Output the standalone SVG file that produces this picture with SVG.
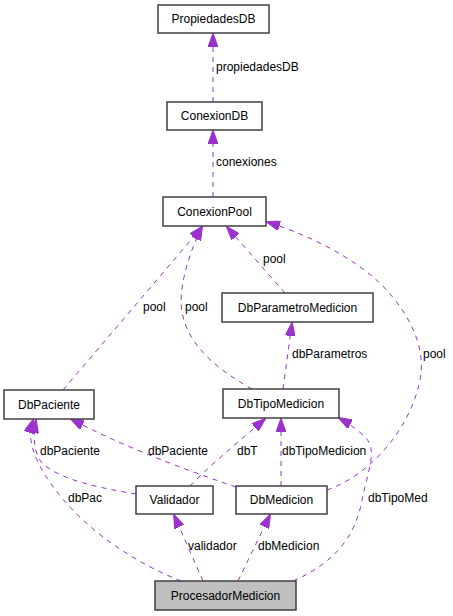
<svg xmlns="http://www.w3.org/2000/svg" width="453" height="616" viewBox="0 0 453 616">
<style>
.box{fill:#fff;stroke:#404040;stroke-width:1.5}
.main{fill:#bfbfbf}
.nt{font-family:"Liberation Sans",Arial,sans-serif;font-size:12px;fill:#000;text-anchor:middle}
.lt{font-family:"Liberation Sans",Arial,sans-serif;font-size:12px;fill:#000}
.e{fill:none;stroke:#9a32cd;stroke-width:1;stroke-dasharray:5,5;marker-end:url(#ah)}
</style>
<defs>
<marker id="ah" viewBox="0 0 14 10" refX="13" refY="5" markerWidth="14" markerHeight="10" markerUnits="userSpaceOnUse" orient="auto">
<path d="M0,0 L14,5 L0,10 z" fill="#9a32cd" stroke="#9a32cd"/>
</marker>
</defs>
<rect width="453" height="616" fill="#fff"/>
<g id="connectors">
<path class="e" d="M213 102 L213 34"/>
<path class="e" d="M213 197 L213 131"/>
<path class="e" d="M63 390 L202 227"/>
<path class="e" d="M252 389 C215 368 188 345 182 312 C178 290 188 255 202 227"/>
<path class="e" d="M285 293 L227 227"/>
<path class="e" d="M327 490 C370 475 410 430 420 380 C428 340 400 300 372 276 C340 250 300 232 267 222"/>
<path class="e" d="M190 486 C205 470 240 440 265 419"/>
<path class="e" d="M236 487 C180 468 120 445 71 419"/>
<path class="e" d="M283 389 L292 323"/>
<path class="e" d="M281 486 L281 419"/>
<path class="e" d="M136 494 C100 488 60 480 42 463 C33 452 33 435 36 420"/>
<path class="e" d="M181 581 C140 565 80 530 45 475 C30 450 28 435 33 420"/>
<path class="e" d="M203 581 L174 515"/>
<path class="e" d="M238 581 L270 515"/>
<path class="e" d="M293 581 C330 565 355 540 362 500 C368 470 378 450 365 437 C358 430 348 423 339 418"/>
</g>
<g id="labels">
<text class="lt" x="216" y="71">propiedadesDB</text>
<text class="lt" x="216" y="166">conexiones</text>
<text class="lt" x="143" y="311">pool</text>
<text class="lt" x="185" y="311">pool</text>
<text class="lt" x="263" y="263">pool</text>
<text class="lt" x="423" y="358">pool</text>
<text class="lt" x="292" y="358">dbParametros</text>
<text class="lt" x="237" y="455">dbT</text>
<text class="lt" x="148" y="455">dbPaciente</text>
<text class="lt" x="40" y="455">dbPaciente</text>
<text class="lt" x="282" y="455">dbTipoMedicion</text>
<text class="lt" x="68" y="502">dbPac</text>
<text class="lt" x="368" y="502">dbTipoMed</text>
<text class="lt" x="188" y="550">validador</text>
<text class="lt" x="258" y="550">dbMedicion</text>
</g>
<g id="PropiedadesDB"><rect class="box" x="158" y="5" width="111" height="28"/><text class="nt" x="213.5" y="23">PropiedadesDB</text></g>
<g id="ConexionDB"><rect class="box" x="167" y="102" width="95" height="28"/><text class="nt" x="214.5" y="120">ConexionDB</text></g>
<g id="ConexionPool"><rect class="box" x="163" y="197" width="103" height="29"/><text class="nt" x="214.5" y="216">ConexionPool</text></g>
<g id="DbParametroMedicion"><rect class="box" x="222" y="293" width="151" height="29"/><text class="nt" x="297.5" y="312">DbParametroMedicion</text></g>
<g id="DbTipoMedicion"><rect class="box" x="223" y="389" width="116" height="29"/><text class="nt" x="281" y="408">DbTipoMedicion</text></g>
<g id="DbPaciente"><rect class="box" x="4" y="390" width="90" height="29"/><text class="nt" x="49" y="409">DbPaciente</text></g>
<g id="Validador"><rect class="box" x="136" y="486" width="77" height="28"/><text class="nt" x="174.5" y="504">Validador</text></g>
<g id="DbMedicion"><rect class="box" x="236" y="486" width="91" height="28"/><text class="nt" x="281.5" y="504">DbMedicion</text></g>
<g id="ProcesadorMedicion"><rect class="box main" x="155" y="581" width="141" height="29"/><text class="nt" x="225.5" y="600">ProcesadorMedicion</text></g>
</svg>
